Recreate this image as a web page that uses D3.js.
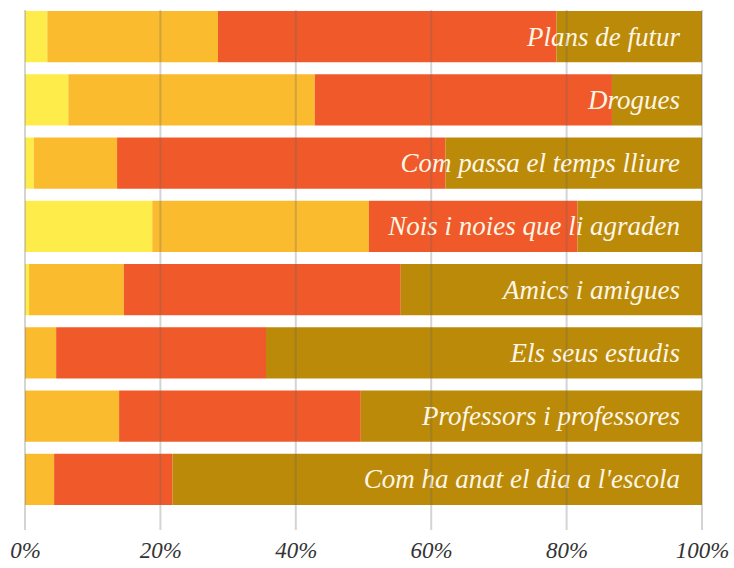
<!DOCTYPE html>
<html>
<head>
<meta charset="utf-8">
<script src="https://cdn.jsdelivr.net/npm/d3@7"></script>
<style>
  body { margin: 0; background: #fff; }
  svg text { font-family: "Liberation Serif", "DejaVu Serif", serif; font-style: italic; }
</style>
</head>
<body>
<div id="chart"></div>
<script>
// categories, top to bottom
let categories = [
  "Plans de futur",
  "Drogues",
  "Com passa el temps lliure",
  "Nois i noies que li agraden",
  "Amics i amigues",
  "Els seus estudis",
  "Professors i professores",
  "Com ha anat el dia a l'escola"
];
// series values (percent), left to right
let serieA = [3.3, 6.4, 1.3, 18.8, 0.6, 0, 0, 0];
let serieB = [25.2, 36.4, 12.3, 32.0, 14.0, 4.6, 13.9, 4.3];
let serieC = [50.0, 43.9, 48.5, 30.8, 40.9, 31.0, 35.7, 17.5];
let serieD = [21.5, 13.3, 37.9, 18.4, 44.5, 64.4, 50.4, 78.2];
let tickValues = [0, 20, 40, 60, 80, 100];

let colors = ["#feec4b", "#fbbb2e", "#f05a2a", "#ba8a08"];

function drawChart() {
  let W = 734, H = 568;
  let margin = { top: 11, right: 32, bottom: 63, left: 25 };
  let width = W - margin.left - margin.right,
    height = H - margin.top - margin.bottom;

  let data = categories.map((c, i) => ({
    cat: c, a: serieA[i], b: serieB[i], c: serieC[i], d: serieD[i]
  }));
  let keys = ["a", "b", "c", "d"];
  let stacked = d3.stack().keys(keys)(data);

  let svg = d3.select("#chart")
    .append("svg")
    .attr("width", W)
    .attr("height", H)
    .append("g")
    .attr("transform", "translate(" + margin.left + "," + margin.top + ")");

  let x = d3.scaleLinear().domain([0, 100]).range([0, width]);
  let y = d3.scaleBand()
    .domain(categories)
    .range([0, height])
    .paddingInner(0.19)
    .paddingOuter(0);

  // bars
  svg.selectAll("g.layer")
    .data(stacked)
    .enter()
    .append("g")
    .attr("class", "layer")
    .attr("fill", (d, i) => colors[i])
    .selectAll("rect")
    .data(d => d)
    .enter()
    .append("rect")
    .attr("x", d => x(d[0]))
    .attr("y", d => y(d.data.cat))
    .attr("width", d => Math.max(0, x(d[1]) - x(d[0])))
    .attr("height", y.bandwidth());

  // labels inside bars
  svg.selectAll("text.lbl")
    .data(categories)
    .enter()
    .append("text")
    .attr("class", "lbl")
    .attr("x", x(100) - 22)
    .attr("y", d => y(d) + y.bandwidth() / 2)
    .attr("dy", "0.33em")
    .attr("text-anchor", "end")
    .attr("fill", "#fdf6e6")
    .style("font-size", "27px")
    .text(d => d);

  // grid lines drawn above bars
  svg.append("g")
    .selectAll("line")
    .data(tickValues)
    .enter()
    .append("line")
    .attr("x1", d => x(d))
    .attr("x2", d => x(d))
    .attr("y1", -1)
    .attr("y2", height + 25)
    .attr("stroke", "#666")
    .attr("stroke-opacity", 0.28)
    .attr("stroke-width", 2);

  // x axis
  let xAxis = svg.append("g")
    .attr("transform", "translate(0," + (height + 25) + ")")
    .call(d3.axisBottom(x).tickValues(tickValues).tickSize(0).tickPadding(12)
      .tickFormat(d => d + "%"));
  xAxis.select(".domain").remove();
  xAxis.selectAll("text")
    .attr("fill", "#333")
    .style("font-size", "23px");
}
drawChart();
</script>
</body>
</html>
